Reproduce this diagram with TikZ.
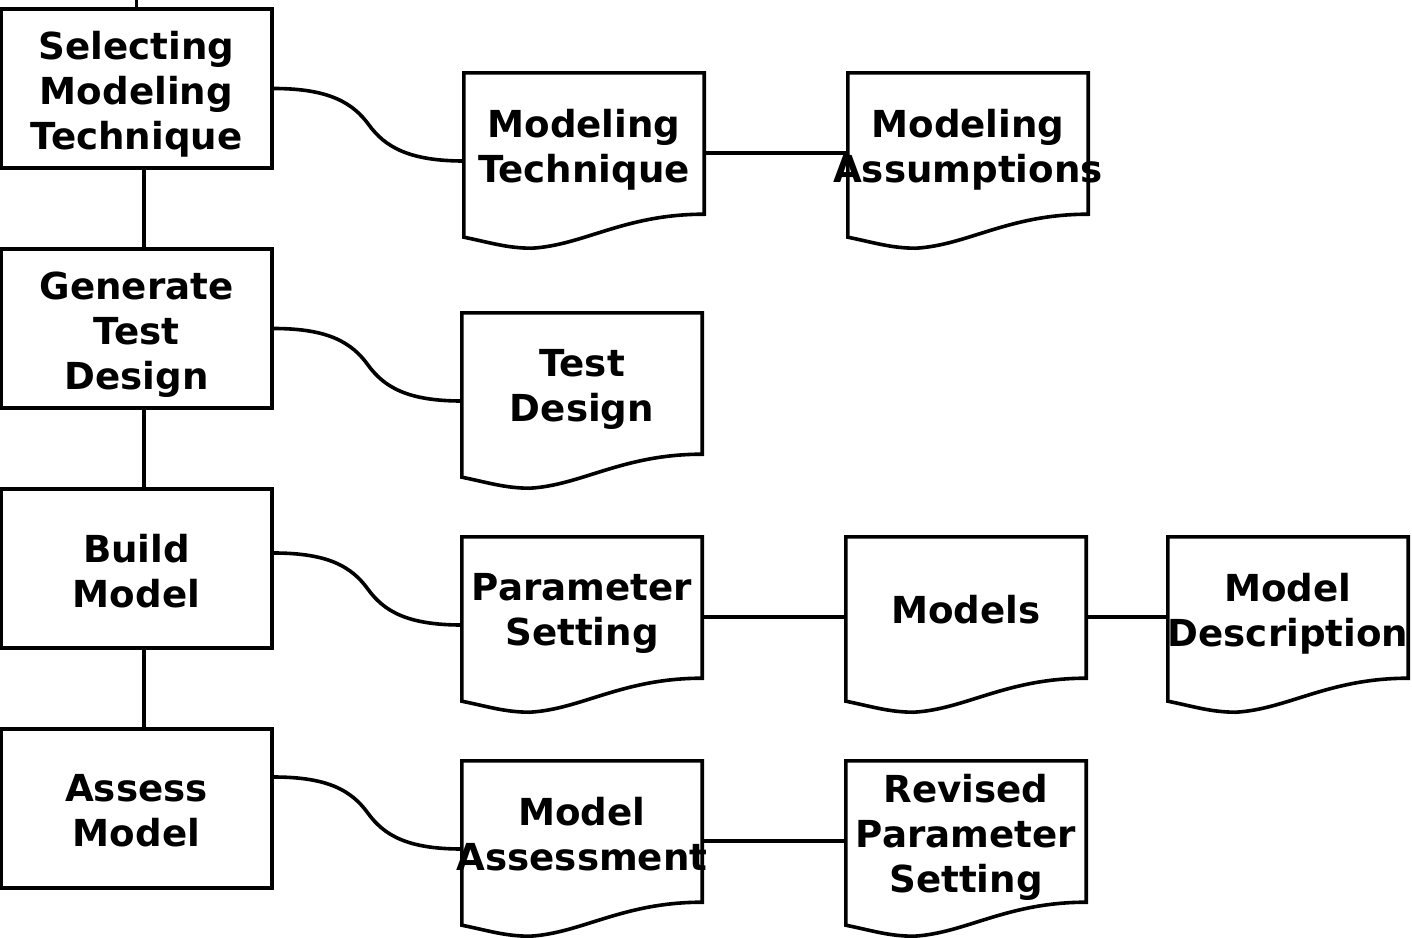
\documentclass[tikz,border=0pt]{standalone}
\usepackage{fontspec}
\setmainfont{DejaVu Sans}
\usetikzlibrary{calc}
\newcommand\lbl{\fontsize{37.2}{45}\selectfont\bfseries}
\begin{document}
\begin{tikzpicture}[x=1pt,y=1pt,
  line/.style={line width=3.6pt, black},
  lbltext/.style={align=center, font=\lbl, text depth=9pt, inner sep=0pt, yshift=-6.5pt},
  proc/.style={draw, line width=3.6pt, fill=white, minimum width=271pt, minimum height=159pt, inner sep=0pt},
  docbox/.style={minimum width=240pt, minimum height=141pt, inner sep=0pt},
  doctext/.style={lbltext}]
\useasboundingbox (0,0) rectangle (1412,-937);

% process steps
\node[proc] (b1) at (136.5,-88.5) {};
\node[proc] (b2) at (136.5,-328.5) {};
\node[proc] (b3) at (136.5,-568.5) {};
\node[proc] (b4) at (136.5,-808.5) {};
\coordinate (top) at (136.5,0);

% document frames (upper rectangular part)
\node[docbox] (mt)   at (584,-143.5) {};
\node[docbox] (mas)  at (968,-143.5) {};
\node[docbox] (td)   at (582,-383.5) {};
\node[docbox] (ps)   at (582,-607.5) {};
\node[docbox] (mo)   at (966,-607.5) {};
\node[docbox] (mdsc) at (1288,-607.5) {};
\node[docbox] (mass) at (582,-831.5) {};
\node[docbox] (rps)  at (966,-831.5) {};

% document outlines with wavy bottom
\foreach \d in {mt,mas,td,ps,mo,mdsc,mass,rps}{
  \draw[line, fill=white] (\d.north west) -- (\d.north east) -- (\d.south east)
    .. controls +(-80,0) and +(52,3) .. ($(\d.south west)+(68,-34)$)
    .. controls +(-25,0) and +(25,-5) .. ($(\d.south west)+(0,-23)$) -- cycle;
}

% step chain
\draw[line] (top) -- (b1.north);
\draw[line] ($(b1.south)+(7.5,0)$) -- ($(b2.north)+(7.5,0)$);
\draw[line] ($(b2.south)+(7.5,0)$) -- ($(b3.north)+(7.5,0)$);
\draw[line] ($(b3.south)+(7.5,0)$) -- ($(b4.north)+(7.5,0)$);

% curved links from steps to their outputs
\foreach \b/\d/\o in {b1/mt/0, b2/td/0, b3/ps/15.5, b4/mass/31.5}{
  \coordinate (s) at ($(\b.east)+(0,\o)$);
  \coordinate (e) at ($(\d.west)+(0,-17.5)$);
  \draw[line] (s) .. controls +(55,0) and +(-16,22) .. ($(s)!0.5!(e)$)
                  .. controls +(16,-22) and +(-55,0) .. (e);
}

% links between outputs
\draw[line] ($(mt.east)+(0,-9.5)$) -- ($(mas.west)+(0,-9.5)$);
\draw[line] ($(ps.east)+(0,-9.5)$) -- ($(mo.west)+(0,-9.5)$);
\draw[line] ($(mo.east)+(0,-9.5)$) -- ($(mdsc.west)+(0,-9.5)$);
\draw[line] ($(mass.east)+(0,-9.5)$) -- ($(rps.west)+(0,-9.5)$);

% step labels
\node[lbltext] at (b1) {Selecting\\Modeling\\Technique};
\node[lbltext] at (b2) {Generate\\Test\\Design};
\node[lbltext] at (b3) {Build\\Model};
\node[lbltext] at (b4) {Assess\\Model};

% document labels
\node[doctext] at (mt)   {Modeling\\Technique};
\node[doctext] at (mas)  {Modeling\\Assumptions};
\node[doctext] at (td)   {Test\\Design};
\node[doctext] at (ps)   {Parameter\\Setting};
\node[doctext] at (mo)   {Models};
\node[doctext] at (mdsc) {Model\\Description};
\node[doctext] at (mass) {Model\\Assessment};
\node[doctext] at (rps)  {Revised\\Parameter\\Setting};
\end{tikzpicture}
\end{document}
